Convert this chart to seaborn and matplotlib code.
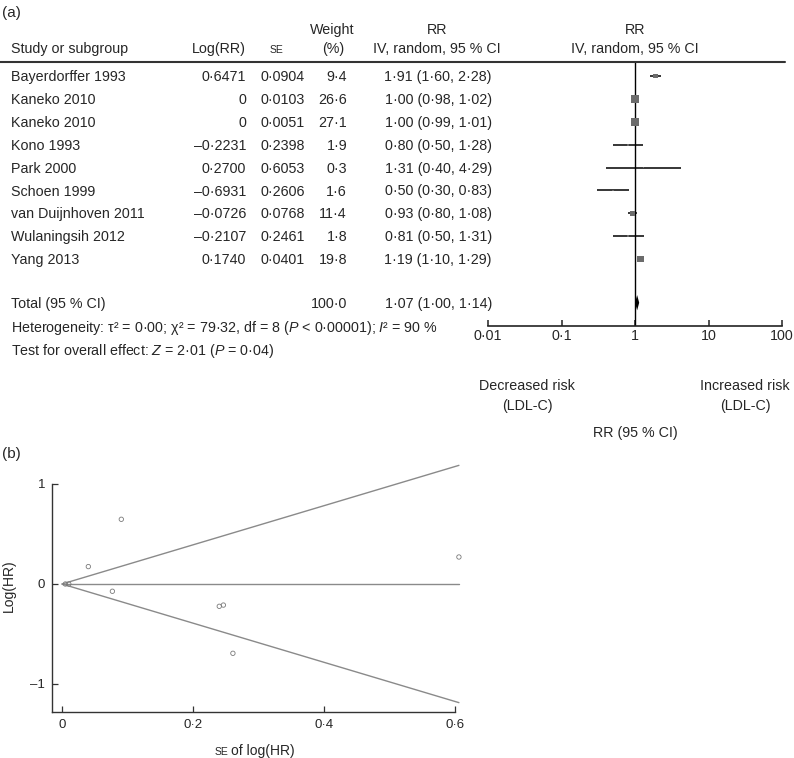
"""Forest plot (a) and funnel plot (b) for the LDL-C meta-analysis."""

import numpy as np
import pandas as pd
import seaborn as sns
import matplotlib.pyplot as plt
from matplotlib.lines import Line2D

studies = [
    "Bayerdorffer 1993", "Kaneko 2010", "Kaneko 2010", "Kono 1993", "Park 2000",
    "Schoen 1999", "van Duijnhoven 2011", "Wulaningsih 2012", "Yang 2013",
]
log_rr = [0.6471, 0, 0, -0.2231, 0.2700, -0.6931, -0.0726, -0.2107, 0.1740]
se = [0.0904, 0.0103, 0.0051, 0.2398, 0.6053, 0.2606, 0.0768, 0.2461, 0.0401]
weight = [9.4, 26.6, 27.1, 1.9, 0.3, 1.6, 11.4, 1.8, 19.8]
rr = [1.91, 1.00, 1.00, 0.80, 1.31, 0.50, 0.93, 0.81, 1.19]
rr_lo = [1.60, 0.98, 0.99, 0.50, 0.40, 0.30, 0.80, 0.50, 1.10]
rr_hi = [2.28, 1.02, 1.01, 1.28, 4.29, 0.83, 1.08, 1.31, 1.29]
total_rr, total_lo, total_hi, total_weight = 1.07, 1.00, 1.14, 100.0
forest_ticks = [0.01, 0.1, 1, 10, 100]
forest_ticklabels = ["0·01", "0·1", "1", "10", "100"]
funnel_center = 0.0
funnel_xticks = [0, 0.2, 0.4, 0.6]
funnel_xticklabels = ["0", "0·2", "0·4", "0·6"]
funnel_yticks = [-1, 0, 1]
funnel_yticklabels = ["–1", "0", "1"]

df = pd.DataFrame(dict(study=studies, log_rr=log_rr, se=se, weight=weight,
                       rr=rr, lo=rr_lo, hi=rr_hi)).assign(row=lambda x: np.arange(len(x)))

sns.set_theme(style="ticks")
plt.rcParams["font.family"] = ["Liberation Sans", "DejaVu Sans"]
plt.rcParams["mathtext.fontset"] = "custom"
plt.rcParams["mathtext.rm"] = "Liberation Sans"
plt.rcParams["mathtext.it"] = "Liberation Sans:italic"

W, H = 794, 758
fig = plt.figure(figsize=(W / 100, H / 100), dpi=100)
FS = 10.3
NARROW = ["Liberation Sans Narrow", "Liberation Sans", "DejaVu Sans"]


def num(v, nd):
    """Number with a middle dot as decimal point and an en dash as minus."""
    if v == 0:
        return "0"
    return f"{v:.{nd}f}".replace(".", "·").replace("-", "–")


def ftxt(x, y, s, **kw):
    """Text placed in pixel coordinates from the top left."""
    kw.setdefault("fontsize", FS)
    kw.setdefault("va", "baseline")
    fig.text(x / W, 1 - y / H, s, **kw)


def row_px(r):
    return 76 + 22.9 * r


# ---- panel (a): table ----
ftxt(2, 17, "(a)", fontsize=11)
ftxt(332, 34, "Weight", ha="center")
ftxt(437, 34, "RR", ha="center")
ftxt(635, 34, "RR", ha="center")
ftxt(11, 53, "Study or subgroup")
ftxt(246, 53, "Log(RR)", ha="right")
ftxt(276, 53, "SE", ha="center", fontsize=7.5)
ftxt(333, 53, "(%)", ha="center")
ftxt(437, 53, "IV, random, 95 % CI", ha="center")
ftxt(635, 53, "IV, random, 95 % CI", ha="center")
fig.add_artist(Line2D([0, 785 / W], [1 - 62 / H] * 2, color="#333333", lw=1.5))

for _, d in df.iterrows():
    yb = row_px(d.row) + 5
    ftxt(11, yb, d.study)
    ftxt(246, yb, num(d.log_rr, 4), ha="right")
    ftxt(305, yb, num(d.se, 4), ha="right")
    ftxt(347, yb, num(d.weight, 1), ha="right")
    ftxt(492, yb, f"{num(d.rr, 2)} ({num(d.lo, 2)}, {num(d.hi, 2)})", ha="right")

total_row = 9.9
yb = row_px(total_row) + 5
ftxt(11, yb, "Total (95 % CI)")
ftxt(347, yb, num(total_weight, 1), ha="right")
ftxt(492, yb, f"{num(total_rr, 2)} ({num(total_lo, 2)}, {num(total_hi, 2)})", ha="right")
ftxt(11, yb + 24,
     r"Heterogeneity: τ² = 0·00; χ² = 79·32, df = 8 ($\it{P}$ < 0·00001); $\it{I}$² = 90 %")
ftxt(11, yb + 47, r"Test for overall effect: $\it{Z}$ = 2·01 ($\it{P}$ = 0·04)")

# ---- panel (a): forest ----
top, bot = 62, 326
ax = fig.add_axes([488 / W, 1 - bot / H, (782 - 488) / W, (bot - top) / H])
ax.set_xscale("log")
ax.set_xlim(0.01, 100)
ax.set_ylim((bot - 76) / 22.9, (top - 76) / 22.9)
ax.axvline(1, color="black", lw=1.0, zorder=1)
ax.hlines(df["row"], df["lo"], df["hi"], color="black", lw=1.1, zorder=2)
sns.scatterplot(data=df, x="rr", y="row", size="weight",
                sizes=(1.07 * min(weight), 1.07 * max(weight)),
                marker="s", color="#6b6b6b", linewidth=0, legend=False, ax=ax, zorder=3)
h = 0.33
ax.fill([total_lo, total_rr, total_hi, total_rr],
        [total_row, total_row - h, total_row, total_row + h], color="black", lw=0, zorder=3)
for s in ["left", "right", "top"]:
    ax.spines[s].set_visible(False)
ax.spines["bottom"].set_color("#222222")
ax.spines["bottom"].set_linewidth(1.2)
ax.set_yticks([])
ax.set_xticks(forest_ticks)
ax.set_xticklabels(forest_ticklabels, fontsize=FS)
ax.minorticks_off()
ax.tick_params(axis="x", direction="in", length=4, width=1.1, pad=2.5, color="#222222")
ax.set_xlabel("")
ax.set_ylabel("")
ax.set_facecolor("none")

ftxt(527, 390, "Decreased risk", ha="center")
ftxt(527, 410, "(LDL-C)", ha="center")
ftxt(745, 390, "Increased risk", ha="center")
ftxt(745, 410, "(LDL-C)", ha="center")
ftxt(635, 437, "RR (95 % CI)", ha="center")

# ---- panel (b): funnel ----
ftxt(2, 458, "(b)", fontsize=11)
x0, x1, y0, y1 = -0.0153, 0.61, -1.28, 1.2
bx = fig.add_axes([52 / W, 1 - 712 / H, (462 - 52) / W, (712 - 464) / H])
bx.set_xlim(x0, x1)
bx.set_ylim(y0, y1)
se_max = max(se)
edge = np.array([0, se_max])
for k in (-1.96, 0, 1.96):
    bx.plot(edge, funnel_center + k * edge, color="#8a8a8a", lw=1.0, zorder=1)
sns.scatterplot(data=df, x="se", y="log_rr", marker="o", s=10, facecolors="none",
                edgecolor="#7a7a7a", linewidth=0.6, ax=bx, zorder=2)
for s in ["right", "top"]:
    bx.spines[s].set_visible(False)
for s in ["left", "bottom"]:
    bx.spines[s].set_color("#333333")
    bx.spines[s].set_linewidth(1.0)
bx.spines["left"].set_bounds(y0, 1)
bx.spines["bottom"].set_bounds(x0, 0.6)
bx.set_xticks(funnel_xticks)
bx.set_xticklabels(funnel_xticklabels, fontsize=9.5, family=NARROW)
bx.set_yticks(funnel_yticks)
bx.set_yticklabels(funnel_yticklabels, fontsize=9.5, family=NARROW)
bx.tick_params(direction="in", length=4.5, width=0.9, pad=5, color="#333333")
bx.set_xlabel("")
bx.set_ylabel("Log(HR)", fontsize=10, family=NARROW)
bx.yaxis.set_label_coords(-0.088, 0.51)
bx.set_facecolor("none")
ftxt(228, 755, "SE", ha="right", fontsize=7.5, family=NARROW)
ftxt(231, 755, "of log(HR)", ha="left", fontsize=10, family=NARROW)

fig.savefig("out.png", dpi=100)
